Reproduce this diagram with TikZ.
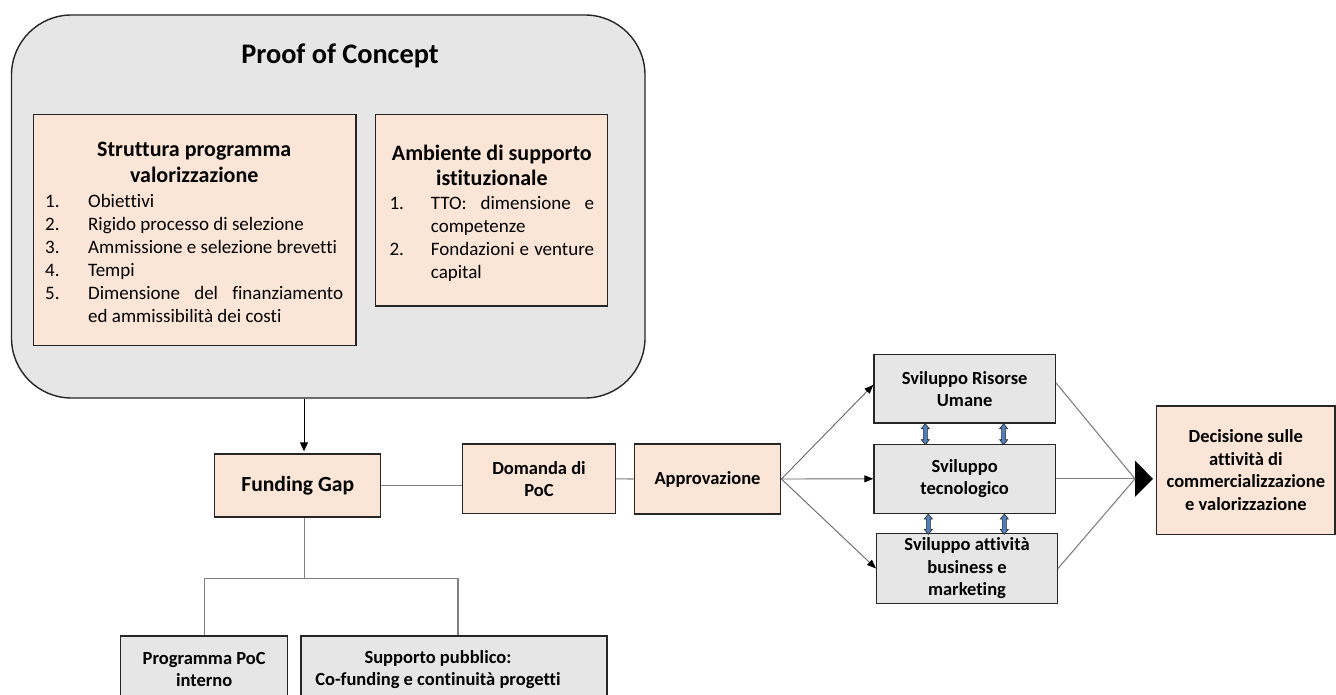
\documentclass[tikz,border=0pt]{standalone}
\usepackage{fontspec}
\setmainfont{Carlito}[Ligatures=NoCommon]
\usetikzlibrary{arrows.meta,calc}

\definecolor{peach}{HTML}{FBE5D6}
\definecolor{panel}{HTML}{E7E6E6}
\definecolor{edge}{HTML}{262626}
\definecolor{wire}{HTML}{808080}
\definecolor{linkblue}{HTML}{4F81BD}

\hyphenpenalty=10000
\exhyphenpenalty=10000

% fonts for the panel texts
\newcommand\pocheadfont{\fontsize{22}{26}\selectfont\bfseries}
\newcommand\pocbodyfont{\fontsize{19}{23}\selectfont}
% numbered entry with hanging indent
\newcommand\pocitem[2]{\hangindent=#1\hangafter=1\noindent\makebox[#1][l]{#2}}

\tikzset{
  box/.style={draw=edge, line width=1.4pt, inner sep=0pt, align=center,
              font=\fontsize{18.5}{22.5}\selectfont\bfseries},
  peachbox/.style={box, fill=peach},
  graybox/.style={box, fill=panel},
  wireline/.style={draw=wire, line width=1.1pt},
  flow/.style={draw=black!60, line width=0.9pt, -{Triangle[length=9pt,width=7pt,color=black]}},
  drop/.style={draw=black, line width=0.9pt, -{Triangle[length=9pt,width=8pt]}, shorten >=2pt},
  pics/linkarrow/.style={code={
    \filldraw[fill=linkblue, draw=edge, line width=0.6pt]
      (0,0) -- (4,5) -- (2,5) -- (2,#1-5) -- (4,#1-5) -- (0,#1)
      -- (-4,#1-5) -- (-2,#1-5) -- (-2,5) -- (-4,5) -- cycle;}}
}

\begin{document}
\begin{tikzpicture}[x=1pt,y=-1pt]
\useasboundingbox (0,0) rectangle (1336,695);
\clip (0,0) rectangle (1336,695);

% ---- Proof of Concept panel ----
\node[draw=edge, line width=1.4pt, fill=panel, rounded corners=60pt,
      minimum width=633.5pt, minimum height=383pt, inner sep=0pt] (poc) at (328.25,206.5) {};
\node[anchor=base, inner sep=0pt, font=\fontsize{28.3}{34}\selectfont\bfseries] (poctitle) at (340,63.3) {Proof of Concept};

\node[peachbox, minimum width=322.7pt, minimum height=231.2pt] (struct) at (194.65,229.9) {};
\node[anchor=base west, text width=298pt, inner sep=0pt, align=justify] (structtxt) at (45,156.7) {%
  {\pocheadfont\centering Struttura programma\par valorizzazione\par}%
  \vskip 2pt
  \pocbodyfont
  \pocitem{43pt}{1.}Obiettivi\par
  \pocitem{43pt}{2.}Rigido processo di selezione\par
  \pocitem{43pt}{3.}Ammissione e selezione brevetti\par
  \pocitem{43pt}{4.}Tempi\par
  \pocitem{43pt}{5.}Dimensione del finanziamento\linebreak ed ammissibilità dei costi\par};

\node[peachbox, minimum width=231.6pt, minimum height=191.7pt] (ambiente) at (491.5,210.15) {};
\node[anchor=base west, text width=204.7pt, inner sep=0pt, align=justify] (ambientetxt) at (389.3,161) {%
  {\fontsize{22}{25}\selectfont\bfseries\centering Ambiente di supporto\par istituzionale\par}%
  \vskip 1pt
  \pocbodyfont
  \pocitem{41.4pt}{1.}TTO: dimensione e\linebreak competenze\par
  \pocitem{41.4pt}{2.}Fondazioni e venture\linebreak capital\par};

% ---- funding chain ----
\node[peachbox, minimum width=166pt, minimum height=63pt,
      font=\fontsize{21.6}{26}\selectfont\bfseries] (fg) at (297.7,485.5) {Funding Gap};
\node[peachbox, minimum width=152.6pt, minimum height=69.7pt] (dom) at (539,478.85) {Domanda di\\PoC};
\node[peachbox, minimum width=146.4pt, minimum height=70pt] (appr) at (707.5,479) {Approvazione};

\node[graybox, minimum width=167pt, minimum height=84pt] (prog) at (204.2,678) {};
\node[inner sep=0pt, align=center, font=\fontsize{18.5}{22.5}\selectfont\bfseries] (progtxt) at (204.2,669.4) {Programma PoC\\interno};
\node[graybox, minimum width=306pt, minimum height=84pt] (pub) at (454,678) {};
\node[inner sep=0pt, align=center, font=\fontsize{18.5}{22.5}\selectfont\bfseries] (pubtxt) at (438,669.4) {Supporto pubblico:\\Co-funding e continuità progetti};

% ---- development tracks ----
\node[graybox, minimum width=181.3pt, minimum height=68.3pt] (svhr) at (964.65,388.85) {Sviluppo Risorse\\Umane};
\node[graybox, minimum width=181.3pt, minimum height=69pt] (svtech) at (964.65,478.8) {Sviluppo\\tecnologico};
\node[graybox, minimum width=180.6pt, minimum height=69.6pt] (svbiz) at (967,568.5) {Sviluppo attività\\business e\\marketing};

\node[peachbox, minimum width=178.3pt, minimum height=128.3pt] (dec) at (1245.85,470.15)
  {Decisione sulle\\attività di\\commercializzazione\\e valorizzazione};

% ---- connectors ----
\coordinate (fgin) at ([xshift=6.3pt]fg.north);
\draw[drop] (fgin |- poc.south) -- (fgin);

\draw[wireline] (fg.east) -- (fg.east -| dom.west);
\draw[wireline] (dom.east) -- (appr.west);

\coordinate (fgout) at ([xshift=7pt]fg.south);
\coordinate (split) at ([yshift=-61pt]fgout);
\draw[wireline] (fgout) -- (split);
\draw[wireline] (prog.north) |- (split) -| ([xshift=4pt]pub.north);

\draw[flow] (appr.east) -- ([yshift=4pt]svhr.west);
\draw[flow] (appr.east) -- (svtech.west);
\draw[flow] (appr.east) -- (svbiz.west);

\pic at ([xshift=52pt]svhr.south west) {linkarrow=21};
\pic at ([xshift=130.3pt]svhr.south west) {linkarrow=21};
\pic at ([xshift=55pt]svtech.south west) {linkarrow=20.4};
\pic at ([xshift=131pt]svtech.south west) {linkarrow=20.4};

\coordinate (conv) at ([xshift=-21pt]dec.west |- svtech.east);
\draw[wireline, -{Triangle[length=18pt,width=36pt,color=black]}]
  (svtech.east) -- ([xshift=-3pt]dec.west |- svtech.east);
\draw[wireline] ([yshift=6pt]svhr.east) -- (conv);
\draw[wireline] (svbiz.east) -- (conv);
\end{tikzpicture}
\end{document}
